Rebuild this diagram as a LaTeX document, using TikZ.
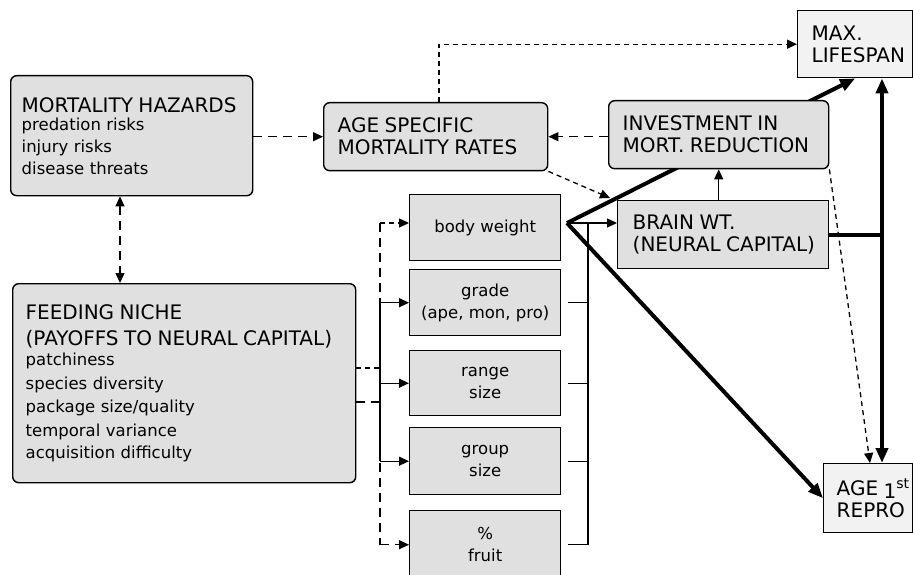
\documentclass[tikz,border=0pt]{standalone}
\usepackage{fontspec}
\setmainfont{DejaVu Sans}
\usetikzlibrary{arrows.meta,calc,backgrounds}
\newcommand{\capsf}{\fontsize{20}{26}\selectfont}
\newcommand{\lowf}{\fontsize{16.5}{22}\selectfont}
\hyphenpenalty=10000
\exhyphenpenalty=10000
\begin{document}
\begin{tikzpicture}[x=1pt,y=-1pt,
  box/.style={draw=black, line width=1.4pt, fill=black!12, inner xsep=14pt, inner ysep=0pt, anchor=north west, font=\lowf},
  rbox/.style={box, rounded corners=6pt},
  mid/.style={box, minimum width=151pt, align=center, inner xsep=2pt},
  thin/.style={line width=1.3pt},
  thick/.style={line width=4pt},
  dlong/.style={thin, dash pattern=on 9pt off 6pt},
  dshort/.style={thin, dash pattern=on 5pt off 4pt},
  tip/.style={-{Triangle[length=10pt,width=9pt]}},
  bigtip/.style={-{Triangle[length=15pt,width=12pt]}}
]
\useasboundingbox (0,0) rectangle (913,575);

\coordinate (apex) at (567,223);
\coordinate (vx) at (882,0);
\coordinate (lrail) at (380,0);
\coordinate (rrail) at (588,0);
\coordinate (mhx) at (120,0);
\coordinate (asmx) at (439,0);

% boxes
\node[rbox, minimum width=242pt, minimum height=120pt, text width=220pt, inner xsep=11pt, align=left] (mh) at (10,75)
  {\capsf MORTALITY HAZARDS\\[-4pt] \lowf predation risks\\ injury risks\\ disease threats};
\node[rbox, minimum width=343pt, minimum height=199pt, text width=317pt, inner xsep=13pt, align=left] (fn) at (12,283)
  {\capsf FEEDING NICHE\\ (PAYOFFS TO NEURAL CAPITAL)\\[-3pt]
   \fontsize{16.5}{23.5}\selectfont patchiness\\ species diversity\\ package size/quality\\ temporal variance\\ acquisition difficulty};
\node[rbox, minimum width=224pt, minimum height=68pt, text width=196pt, align=left] (asm) at (323,102)
  {\capsf AGE SPECIFIC\\ MORTALITY RATES};
\node[rbox, minimum width=220pt, minimum height=68pt, text width=192pt, align=left] (inv) at (608,100)
  {\fontsize{20}{27}\selectfont INVESTMENT IN\\ MORT. REDUCTION};
\node[box, minimum width=211pt, minimum height=68pt, text width=185pt, inner xsep=13pt, align=left] (brain) at (617,200)
  {\fontsize{20}{29}\selectfont \hspace*{2pt}BRAIN WT.\\ \hspace*{2pt}(NEURAL CAPITAL)};
\node[box, minimum width=115pt, minimum height=67pt, text width=101pt, inner xsep=7pt, align=left, fill=black!5] (max) at (797,10)
  {\fontsize{20}{29}\selectfont \hspace*{7pt}MAX.\\ \hspace*{7pt}\mbox{LIFESPAN}};
\node[box, minimum width=89pt, minimum height=69pt, text width=75pt, inner xsep=7pt, align=left, fill=black!5] (age) at (823,463)
  {\fontsize{20}{27}\selectfont \hspace*{6pt}AGE~\raisebox{-3pt}{1}\textsuperscript{st}\\ \hspace*{6pt}REPRO};
\node[mid, minimum height=66pt] (bw) at (409,194) {body weight};
\node[mid, minimum height=66pt] (gr) at (409,269) {grade\\ (ape, mon, pro)};
\node[mid, minimum height=65pt] (rs) at (409,350) {range\\ size};
\node[mid, minimum height=67pt] (gs) at (409,427) {group\\ size};
\node[mid, minimum height=68pt] (fr) at (409,510) {\%\\ fruit};

\begin{scope}[on background layer]
  \fill[white] (0,0) rectangle (913,575);
  % thick connectors from the apex (pass under the investment box)
  \draw[thick, bigtip] (apex) -- (max.south);
  \draw[thick, bigtip] (apex) -- (age.west);
  % dashed from investment to age at first reproduction
  \draw[dshort, tip] (inv.south east) -- ([xshift=-12pt]age.north -| vx);
\end{scope}

% thick vertical between lifespan and age at first reproduction
\draw[thick, bigtip] (brain.east -| vx) -- (max.south -| vx);
\draw[thick, bigtip] (brain.east -| vx) -- (age.north -| vx);
\draw[thick] (brain.east) -- (brain.east -| vx);

% mortality hazards -> age specific mortality rates
\draw[dlong, tip] (asm.west -| mh.east) -- (asm.west);
% investment -> age specific mortality rates
\draw[dlong, tip] (inv.west |- asm.east) -- (asm.east);
% age specific mortality -> max lifespan
\draw[dshort, tip] (asm.north -| asmx) |- (max.west);
% age specific mortality -> brain
\draw[dshort, tip] (asm.south east) -- ([xshift=-7pt,yshift=2pt]brain.north west);
% brain -> investment
\draw[thin, tip] (inv.south |- brain.north) -- (inv.south);
% mortality hazards <-> feeding niche
\draw[dlong, {Triangle[length=10pt,width=9pt]}-{Triangle[length=10pt,width=9pt]}] (mh.south -| mhx) -- (fn.north -| mhx);

% right rail to brain
\draw[thin] (apex) -- (apex -| rrail);
\draw[thin, tip] (apex -| rrail) -- (apex -| brain.west);
\draw[thin] (apex -| rrail) -- (fr.east -| rrail);
\foreach \b in {gr,rs,gs,fr}
  \draw[thin] ([xshift=7pt]\b.east) -- (\b.east -| rrail);

% left rails from feeding niche
\coordinate (fa) at (0,368);
\coordinate (fb) at (0,402);
\coordinate (bwin) at (0,223);
\draw[dshort] (fa -| fn.east) -- (fa -| lrail);
\draw[dlong] (bwin -| lrail) -- (fr.west -| lrail);
\draw[dshort, tip] (bwin -| lrail) -- (bwin -| bw.west);
\draw[dlong, tip] (fr.west -| lrail) -- (fr.west);
\draw[dlong] (fb -| fn.east) -- (fb -| lrail);
\draw[thin] (gr.west -| lrail) -- (gs.west -| lrail);
\foreach \b in {gr,rs,gs}
  \draw[thin, tip] (\b.west -| lrail) -- (\b.west);
\end{tikzpicture}
\end{document}
